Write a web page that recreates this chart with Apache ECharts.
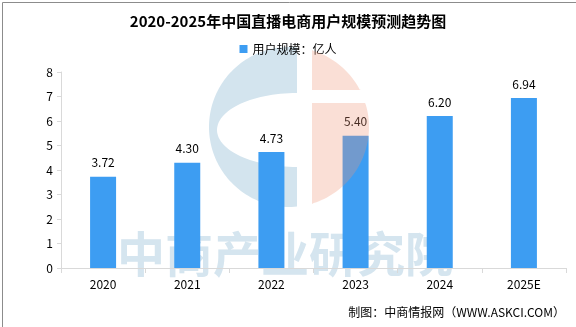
<!DOCTYPE html>
<html><head><meta charset="utf-8">
<script src="https://cdn.jsdelivr.net/npm/echarts@6/dist/echarts.min.js"></script>
<style>html,body{margin:0;padding:0;background:#fff}#c{width:576px;height:327px}</style>
</head><body><div id="c"></div>
<script>
const categories = ['2020','2021','2022','2023','2024','2025E'];
const values = [3.72, 4.30, 4.73, 5.40, 6.20, 6.94];
const yTicks = [0,1,2,3,4,5,6,7,8];
const seriesName = '用户规模：亿人';
const titleText = '2020-2025年中国直播电商用户规模预测趋势图';
const sourceText = '制图：中商情报网（WWW.ASKCI.COM）';
const FONT = '"Noto Sans CJK SC", sans-serif';

// decorative watermark logo outlines
function circlePts(cx, cy, r, xMin, xMax, yMin, yMax) {
  // region of circle clipped to a box, traced as polygon
  const pts = [];
  for (let a = 0; a <= 360; a += 2) {
    const t = a * Math.PI / 180;
    let x = cx + r * Math.cos(t), y = cy + r * Math.sin(t);
    x = Math.min(Math.max(x, xMin), xMax);
    y = Math.min(Math.max(y, yMin), yMax);
    pts.push([x, y]);
  }
  return pts;
}
function cShape() {
  const cx = 289, cy = 127, r = 80, cut = 297;
  const hx = 297, hy = 130, rx = 80, ry = 37;
  const pts = [];
  // outer arc from top (at cut) going left to bottom
  const a0 = Math.asin((cut - cx) / r);
  for (let i = 0; i <= 90; i++) {
    const t = -Math.PI / 2 - a0 + 0 - (i / 90) * (Math.PI - 2 * a0) * -1;
    const ang = -Math.PI / 2 + a0 - (i / 90) * (Math.PI + 2 * a0) * -1;
    pts.push([cx + r * Math.sin(-ang + Math.PI), cy + r * Math.cos(-ang + Math.PI)]);
  }
  return pts;
}
function cPolygon() {
  const cx = 289, cy = 127, r = 80, cut = 297;
  const hx = 297, hy = 130, rx = 80, ry = 37;
  const pts = [];
  const dx = cut - cx;
  const dy = Math.sqrt(r * r - dx * dx);
  pts.push([cut, cy - dy]);
  // outer arc going counter-clockwise via left side
  const aTop = Math.atan2(-dy, dx), aBot = Math.atan2(dy, dx);
  const start = aTop, end = aBot - 2 * Math.PI; // go through left (pi)
  // angles from aTop decreasing to aBot-2pi
  for (let i = 0; i <= 100; i++) {
    const a = start + (end - start) * i / 100;
    pts.push([cx + r * Math.cos(a), cy + r * Math.sin(a)]);
  }
  pts.push([cut, cy + dy]);
  pts.push([cut, hy + ry]);
  // inner half-ellipse from bottom back to top via left
  for (let i = 0; i <= 60; i++) {
    const a = Math.PI / 2 + Math.PI * i / 60;
    pts.push([hx + rx * Math.cos(a), hy + ry * Math.sin(a)]);
  }
  pts.push([cut, hy - ry]);
  return pts;
}

const chart = echarts.init(document.getElementById('c'), null, {renderer:'canvas'});
chart.setOption({
  backgroundColor:'#fff',
  animation:false,
  textStyle:{fontFamily:FONT},
  title:{text:titleText,left:'center',top:9,textStyle:{fontSize:15,fontWeight:'bold',color:'#000',fontFamily:FONT}},
  legend:{data:[seriesName],top:38,left:'center',itemWidth:8,itemHeight:8,icon:'rect',itemGap:4,
    textStyle:{fontSize:12,color:'#000',fontFamily:FONT}},
  grid:{left:61,right:10,top:72,bottom:59},
  xAxis:{type:'category',data:categories,
    axisLine:{lineStyle:{color:'#d9d9d9'}},
    axisTick:{show:true,alignWithLabel:false,length:5,lineStyle:{color:'#d9d9d9'}},
    axisLabel:{color:'#000',fontSize:12,margin:10,fontFamily:FONT}},
  yAxis:{type:'value',min:0,max:8,interval:1,
    axisLine:{show:true,lineStyle:{color:'#d9d9d9'}},
    axisTick:{show:true,length:4,lineStyle:{color:'#d9d9d9'}},
    splitLine:{show:false},
    axisLabel:{color:'#000',fontSize:12,margin:8,fontFamily:FONT,
      formatter:v=>yTicks.includes(v)?String(v):''}},
  graphic:[
    {type:'polygon',z:-1,silent:true,shape:{points:cPolygon()},style:{fill:'#d3e4ee'}},
    {type:'polygon',z:50,silent:true,shape:{points:circlePts(289,127,80,312,400,0,90)},style:{fill:'rgba(240,150,120,0.3)'}},
    {type:'polygon',z:50,silent:true,shape:{points:circlePts(289,127,80,312,400,103,300)},style:{fill:'rgba(240,150,120,0.3)'}},
    {type:'text',left:117,top:230,z:-1,silent:true,style:{text:'中商产业研究院',font:'bold 48px "Noto Sans CJK SC"',fill:'#d5e5ef'}},
    {type:'rect',left:0,top:0,z:100,shape:{width:575,height:326},style:{fill:'none',stroke:'#8c8c8c',lineWidth:1}},
    {type:'text',right:11,top:306,z:100,style:{text:sourceText,font:'12px "Noto Sans CJK SC"',fill:'#000'}}
  ],
  series:[{name:seriesName,type:'bar',data:values,barWidth:26,z:10,
    itemStyle:{color:'#3D9DF2'},
    label:{show:true,position:'top',distance:8,color:'#000',fontSize:12,fontFamily:FONT,
      formatter:p=>p.value.toFixed(2)}}]
});
</script></body></html>
